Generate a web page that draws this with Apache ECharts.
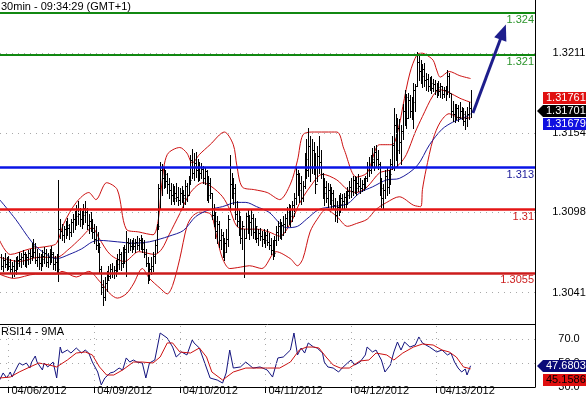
<!DOCTYPE html>
<html><head><meta charset="utf-8">
<script src="https://cdn.jsdelivr.net/npm/echarts@6/dist/echarts.min.js"></script>
<style>html,body{margin:0;padding:0;background:#fff}#c{width:586px;height:397px}</style>
</head><body><div id="c"></div>
<script>
// ---------- DATA ----------
const barStart = -4; // index of first 30-min bar (0 = 04/06/2012 00:00)
const barHigh = [1.3068,1.3066,1.3069,1.3066,1.3067,1.3065,1.3063,1.3064,1.3066,1.3067,
1.3070,1.3069,1.3071,1.3070,1.3068,1.3071,1.3072,1.3076,1.3079,1.3076,
1.3072,1.3069,1.3068,1.3071,1.3073,1.3072,1.3069,1.3072,1.3074,1.3070,
1.3067,1.3068,1.3121,1.3093,1.3090,1.3088,1.3092,1.3094,1.3090,1.3093,
1.3097,1.3099,1.3103,1.3106,1.3101,1.3099,1.3104,1.3106,1.3101,1.3097,
1.3098,1.3093,1.3090,1.3088,1.3084,1.3076,1.3060,1.3050,1.3052,1.3056,
1.3060,1.3061,1.3062,1.3060,1.3064,1.3068,1.3072,1.3070,1.3073,1.3075,
1.3085,1.3080,1.3079,1.3078,1.3080,1.3079,1.3081,1.3080,1.3082,1.3080,
1.3078,1.3072,1.3066,1.3062,1.3066,1.3070,1.3078,1.3090,1.3118,1.3134,
1.3132,1.3130,1.3128,1.3126,1.3122,1.3119,1.3118,1.3117,1.3119,1.3116,
1.3115,1.3117,1.3114,1.3121,1.3119,1.3124,1.3139,1.3143,1.3140,1.3141,
1.3136,1.3134,1.3133,1.3131,1.3130,1.3128,1.3124,1.3122,1.3112,1.3104,
1.3098,1.3095,1.3092,1.3086,1.3084,1.3080,1.3086,1.3096,1.3139,1.3126,
1.3122,1.3118,1.3106,1.3100,1.3095,1.3092,1.3086,1.3098,1.3100,1.3096,
1.3100,1.3097,1.3094,1.3088,1.3086,1.3087,1.3085,1.3086,1.3084,1.3086,
1.3083,1.3080,1.3078,1.3081,1.3088,1.3092,1.3093,1.3091,1.3095,1.3097,
1.3102,1.3104,1.3103,1.3106,1.3112,1.3130,1.3128,1.3126,1.3124,1.3120,
1.3140,1.3150,1.3158,1.3152,1.3150,1.3148,1.3140,1.3145,1.3152,1.3142,
1.3126,1.3122,1.3120,1.3119,1.3118,1.3116,1.3114,1.3108,1.3106,1.3110,
1.3112,1.3111,1.3112,1.3113,1.3116,1.3120,1.3122,1.3124,1.3124,1.3123,
1.3125,1.3122,1.3121,1.3122,1.3124,1.3134,1.3137,1.3139,1.3144,1.3145,
1.3146,1.3142,1.3134,1.3122,1.3118,1.3128,1.3130,1.3128,1.3136,1.3152,
1.3172,1.3168,1.3165,1.3164,1.3160,1.3175,1.3185,1.3182,1.3183,1.3181,
1.3180,1.3190,1.3189,1.3212,1.3210,1.3206,1.3203,1.3204,1.3197,1.3196,
1.3194,1.3195,1.3193,1.3192,1.3190,1.3191,1.3190,1.3188,1.3187,1.3188,
1.3199,1.3197,1.3182,1.3177,1.3175,1.3175,1.3174,1.3176,1.3173,1.3172,
1.3170,1.3173,1.3176,1.3185];
const barLow = [1.3058,1.3056,1.3059,1.3057,1.3058,1.3055,1.3052,1.3053,1.3054,1.3058,
1.3060,1.3059,1.3061,1.3060,1.3059,1.3061,1.3062,1.3064,1.3066,1.3062,
1.3060,1.3058,1.3057,1.3060,1.3062,1.3060,1.3059,1.3061,1.3063,1.3058,
1.3057,1.3055,1.3049,1.3080,1.3078,1.3077,1.3080,1.3082,1.3079,1.3081,
1.3084,1.3086,1.3089,1.3090,1.3088,1.3087,1.3090,1.3091,1.3086,1.3083,
1.3085,1.3080,1.3076,1.3072,1.3070,1.3055,1.3040,1.3032,1.3036,1.3042,
1.3050,1.3051,1.3052,1.3051,1.3053,1.3056,1.3058,1.3057,1.3059,1.3062,
1.3053,1.3070,1.3071,1.3070,1.3072,1.3070,1.3072,1.3071,1.3072,1.3070,
1.3066,1.3060,1.3048,1.3050,1.3054,1.3056,1.3062,1.3070,1.3086,1.3100,
1.3110,1.3115,1.3116,1.3112,1.3108,1.3104,1.3106,1.3104,1.3106,1.3103,
1.3104,1.3105,1.3102,1.3104,1.3106,1.3110,1.3118,1.3122,1.3121,1.3123,
1.3120,1.3121,1.3122,1.3119,1.3118,1.3107,1.3105,1.3108,1.3093,1.3088,
1.3080,1.3076,1.3073,1.3072,1.3066,1.3064,1.3070,1.3074,1.3100,1.3108,
1.3104,1.3093,1.3088,1.3082,1.3076,1.3072,1.3052,1.3080,1.3083,1.3079,
1.3082,1.3080,1.3079,1.3077,1.3075,1.3078,1.3074,1.3076,1.3073,1.3075,
1.3072,1.3068,1.3065,1.3067,1.3075,1.3078,1.3080,1.3079,1.3082,1.3084,
1.3088,1.3090,1.3088,1.3092,1.3095,1.3104,1.3110,1.3105,1.3104,1.3106,
1.3115,1.3122,1.3124,1.3120,1.3126,1.3125,1.3112,1.3120,1.3126,1.3122,
1.3108,1.3103,1.3105,1.3102,1.3104,1.3101,1.3100,1.3092,1.3091,1.3096,
1.3098,1.3100,1.3101,1.3102,1.3104,1.3108,1.3109,1.3110,1.3112,1.3110,
1.3113,1.3112,1.3113,1.3114,1.3115,1.3120,1.3124,1.3126,1.3130,1.3128,
1.3131,1.3129,1.3110,1.3102,1.3100,1.3108,1.3110,1.3112,1.3118,1.3129,
1.3128,1.3135,1.3130,1.3140,1.3132,1.3150,1.3160,1.3158,1.3165,1.3166,
1.3164,1.3158,1.3170,1.3188,1.3192,1.3190,1.3187,1.3188,1.3185,1.3184,
1.3185,1.3183,1.3184,1.3182,1.3180,1.3181,1.3180,1.3179,1.3180,1.3178,
1.3182,1.3180,1.3166,1.3163,1.3162,1.3164,1.3163,1.3165,1.3164,1.3160,
1.3157,1.3159,1.3164,1.3166];
const barClose = [1.3060,1.3064,1.3061,1.3063,1.3060,1.3058,1.3060,1.3057,1.3062,1.3064,
1.3065,1.3066,1.3068,1.3064,1.3066,1.3069,1.3067,1.3074,1.3070,1.3064,
1.3066,1.3062,1.3065,1.3067,1.3069,1.3063,1.3066,1.3070,1.3068,1.3061,
1.3063,1.3058,1.3086,1.3085,1.3082,1.3086,1.3089,1.3087,1.3084,1.3091,
1.3093,1.3095,1.3100,1.3097,1.3093,1.3096,1.3101,1.3098,1.3089,1.3092,
1.3087,1.3084,1.3079,1.3075,1.3073,1.3058,1.3045,1.3038,1.3048,1.3050,
1.3053,1.3058,1.3055,1.3057,1.3061,1.3065,1.3068,1.3062,1.3070,1.3072,
1.3077,1.3076,1.3074,1.3076,1.3074,1.3077,1.3075,1.3078,1.3076,1.3072,
1.3068,1.3062,1.3055,1.3058,1.3060,1.3067,1.3075,1.3088,1.3115,1.3128,
1.3122,1.3125,1.3120,1.3118,1.3114,1.3110,1.3108,1.3112,1.3109,1.3107,
1.3112,1.3108,1.3110,1.3117,1.3110,1.3121,1.3135,1.3126,1.3133,1.3128,
1.3130,1.3126,1.3129,1.3122,1.3127,1.3110,1.3119,1.3112,1.3096,1.3092,
1.3085,1.3090,1.3078,1.3082,1.3070,1.3076,1.3079,1.3093,1.3118,1.3112,
1.3115,1.3097,1.3092,1.3086,1.3080,1.3088,1.3080,1.3095,1.3086,1.3091,
1.3094,1.3084,1.3088,1.3080,1.3083,1.3081,1.3079,1.3078,1.3082,1.3077,
1.3075,1.3071,1.3069,1.3078,1.3084,1.3088,1.3082,1.3089,1.3090,1.3094,
1.3098,1.3095,1.3100,1.3103,1.3108,1.3125,1.3114,1.3119,1.3108,1.3117,
1.3136,1.3128,1.3145,1.3130,1.3142,1.3130,1.3118,1.3138,1.3134,1.3125,
1.3112,1.3116,1.3108,1.3114,1.3107,1.3112,1.3103,1.3096,1.3102,1.3104,
1.3108,1.3106,1.3109,1.3110,1.3113,1.3116,1.3113,1.3121,1.3115,1.3119,
1.3117,1.3115,1.3118,1.3116,1.3122,1.3130,1.3128,1.3136,1.3134,1.3141,
1.3136,1.3132,1.3115,1.3108,1.3114,1.3124,1.3116,1.3125,1.3132,1.3146,
1.3160,1.3142,1.3158,1.3148,1.3156,1.3170,1.3180,1.3165,1.3178,1.3170,
1.3176,1.3185,1.3188,1.3205,1.3198,1.3195,1.3200,1.3192,1.3193,1.3188,
1.3190,1.3186,1.3189,1.3185,1.3187,1.3184,1.3188,1.3182,1.3185,1.3184,
1.3195,1.3183,1.3170,1.3168,1.3166,1.3172,1.3166,1.3170,1.3168,1.3163,
1.3165,1.3168,1.3172,1.3170];

const bbUpper = [[-5,1.3078],[1,1.3068],[12,1.3072],[23,1.3074],[27,1.3076],[31,1.3090],[38,1.3105],[45,1.3112],[49,1.3107],[55,1.3119],[61,1.3114],[66,1.3086],[73,1.3084],[81,1.3082],[84,1.3093],[86,1.3119],[89,1.3139],[96,1.3144],[100,1.3140],[103,1.3133],[107,1.3139],[113,1.3146],[121,1.3155],[126,1.3146],[128,1.3131],[131,1.3116],[138,1.3114],[145,1.3112],[152,1.3107],[158,1.3118],[162,1.3135],[165,1.3153],[170,1.3155],[184,1.3155],[188,1.3143],[195,1.3123],[201,1.3126],[208,1.3146],[215,1.3146],[219,1.3160],[221,1.3173],[225,1.3197],[229,1.3210],[232,1.3211],[234,1.3210],[238,1.3206],[240,1.3199],[242,1.3194],[247,1.3198],[253,1.3195],[259,1.3193]];
const bbMiddle = [[-5,1.3066],[6,1.3063],[17,1.3066],[27,1.3066],[34,1.3072],[40,1.3079],[47,1.3087],[51,1.3079],[57,1.3068],[65,1.3063],[73,1.3070],[82,1.3068],[86,1.3072],[90,1.3082],[96,1.3097],[102,1.3112],[109,1.3119],[114,1.3116],[120,1.3109],[124,1.3100],[128,1.3088],[133,1.3086],[139,1.3086],[146,1.3084],[152,1.3081],[158,1.3090],[163,1.3104],[169,1.3116],[176,1.3125],[184,1.3121],[190,1.3114],[195,1.3112],[201,1.3116],[208,1.3126],[214,1.3128],[219,1.3132],[223,1.3139],[228,1.3155],[232,1.3166],[238,1.3181],[242,1.3185],[247,1.3183],[253,1.3179],[259,1.31761]];
const bbLower = [[-5,1.3054],[3,1.3051],[15,1.3054],[27,1.3054],[30,1.3056],[38,1.3052],[45,1.3056],[51,1.3049],[57,1.3040],[61,1.3037],[66,1.3040],[70,1.3047],[75,1.3058],[79,1.3051],[85,1.3044],[89,1.3040],[92,1.3046],[96,1.3065],[100,1.3088],[103,1.3095],[107,1.3098],[113,1.3097],[117,1.3079],[120,1.3065],[124,1.3058],[130,1.3059],[135,1.3060],[142,1.3058],[150,1.3070],[158,1.3065],[162,1.3060],[165,1.3065],[169,1.3084],[173,1.3093],[178,1.3100],[184,1.3095],[190,1.3088],[195,1.3090],[201,1.3093],[206,1.3100],[212,1.3105],[219,1.3109],[227,1.3103],[231,1.3102],[232,1.3114],[234,1.3128],[238,1.3150],[242,1.3162],[247,1.3168],[253,1.3165],[259,1.3165]];
const maBlue = [[-5,1.3107],[4,1.3093],[13,1.3077],[19,1.3070],[27,1.3065],[34,1.3068],[41,1.3072],[47,1.3077],[51,1.3078],[61,1.3077],[70,1.3076],[79,1.3077],[85,1.3079],[90,1.3081],[98,1.3085],[105,1.3095],[113,1.3100],[120,1.3102],[128,1.3105],[133,1.3105],[139,1.3102],[146,1.3098],[156,1.3087],[162,1.3088],[167,1.3093],[174,1.3100],[182,1.3102],[190,1.3104],[197,1.3112],[204,1.3116],[212,1.3121],[219,1.3122],[229,1.3131],[236,1.3146],[243,1.3157],[249,1.3162],[255,1.3165],[259,1.31679]];

const rsi = [[-5,35.8],[-3,41.7],[-1,37.5],[1,42.5],[2,38.3],[4,44.2],[6,50],[8,48.3],[10,50],[12,45.8],[13,50.8],[15,55.8],[16,50.8],[19,44.2],[20,50],[22,46.7],[25,50.8],[27,37.5],[29,63.3],[30,58.3],[33,60.8],[35,58.3],[38,62.5],[41,58.3],[43,60.8],[45,58.3],[47,50.8],[50,42.5],[52,31.7],[54,37.5],[57,41.7],[59,42.5],[62,45.8],[64,44.2],[66,54.2],[68,50.8],[70,52.5],[72,50.8],[75,50],[77,37.5],[79,50],[82,52.5],[85,75],[89,70.8],[92,63.3],[94,55],[97,59.2],[100,56.7],[103,69.2],[104,66.7],[107,62.5],[110,50],[113,37.5],[117,35.8],[120,33.3],[122,41.7],[124,60.8],[126,45.8],[130,46.7],[133,50.8],[137,45.8],[141,46.7],[145,44.2],[148,38.3],[151,54.2],[154,55],[158,60.8],[160,75],[162,56.7],[164,62.5],[166,58.3],[168,66.7],[171,63.3],[173,62.5],[176,58.3],[177,50.8],[179,46.7],[182,45.8],[185,42.5],[187,45.8],[190,50],[192,52.5],[194,48.3],[197,50.8],[200,56.7],[201,63.3],[204,59.2],[206,60.8],[209,52.5],[211,42.5],[214,48.3],[216,59.2],[218,67.5],[220,60.8],[222,67.5],[225,63.3],[228,65],[230,71.7],[232,66.7],[236,63.3],[240,59.2],[243,60.8],[246,56.7],[248,58.3],[250,50.8],[252,45.8],[254,42.5],[256,45],[257,40],[259,47.6803]];
const rsiMa = [[-5,37.5],[1,38.3],[6,42.5],[12,46.7],[17,50],[23,48.3],[27,46.7],[33,52.5],[38,58.3],[43,59.2],[47,56.7],[51,46.7],[55,40],[59,40],[64,44.2],[70,50.8],[75,50.8],[81,50],[85,55],[89,66.7],[92,66.7],[96,59.2],[102,58.3],[107,62.5],[111,55],[114,42.5],[120,35.8],[126,42.5],[133,45.8],[139,45.8],[145,45.8],[152,45.8],[158,50.8],[163,60.8],[167,63.3],[171,63.3],[174,62.5],[178,55],[182,48.3],[186,45.8],[191,45.8],[197,51.7],[202,52.5],[206,58.3],[212,56.7],[216,52.5],[221,58.3],[227,63.3],[232,65.8],[238,65],[243,60.8],[247,59.2],[251,55],[255,46.7],[259,45.1586]];

const levels = [1.324, 1.321, 1.313, 1.31, 1.3055];
const levelLabels = ['1.324', '1.321', '1.313', '1.31', '1.3055'];
const priceTicks = [1.3041, 1.3098, 1.3154, 1.3211];
const rsiTicks = [30, 50, 70];
const rsiGrid = [50, 70];
const dateTicks = [0, 48, 96, 144, 192, 240];
const dateLabels = ['04/06/2012', '04/09/2012', '04/10/2012', '04/11/2012', '04/12/2012', '04/13/2012'];
const arrowFrom = [260.3, 1.31685];
const arrowTo = [277.2, 1.32261];
const lastPrice = 1.31701, lastBBMid = 1.31761, lastMA = 1.31679;
const lastRsi = 47.6803, lastRsiMa = 45.1586;
const titleText = '30min - 09:34:29 (GMT+1)';
const rsiTitle = 'RSI14 - 9MA';

// ---------- CHART ----------
const FONT = '"Liberation Sans", Arial, sans-serif';
const chart = echarts.init(document.getElementById('c'), null, {renderer: 'canvas', width: 586, height: 397});
const xMin = -4.76, xMax = 295.1;
const barData = barHigh.map((h, k) => [barStart + k, barLow[k], h, barClose[k]]);

const levelStyles = [
  {line: '#118811', text: '#2a932a', w: 2},
  {line: '#118811', text: '#2a932a', w: 2},
  {line: '#0a14e6', text: '#1a1a99', w: 2.5},
  {line: '#e41414', text: '#cc1f1f', w: 2.5},
  {line: '#cc1c1c', text: '#cc1f1f', w: 2.5}
];

function lineSeries(data, color, xi, yi, z, smooth) {
  return {type: 'line', xAxisIndex: xi, yAxisIndex: yi, data: data, showSymbol: false, symbol: 'none',
    smooth: smooth, lineStyle: {color: color, width: 1}, z: z, silent: true, clip: true};
}
const dotted = {color: '#a8a8a8', width: 1, type: [1, 5]};

const option = {
  animation: false,
  backgroundColor: '#fff',
  grid: [
    {left: 0, right: 51, top: 0, height: 324, containLabel: false, outerBoundsMode: 'none'},
    {left: 0, right: 51, top: 324, height: 63, containLabel: false, outerBoundsMode: 'none'}
  ],
  xAxis: [
    {type: 'value', gridIndex: 0, min: xMin, max: xMax,
      axisLine: {show: true, onZero: false, lineStyle: {color: '#000', width: 1}},
      axisTick: {show: false}, axisLabel: {show: false}, splitLine: {show: false}},
    {type: 'value', gridIndex: 1, min: xMin, max: xMax,
      axisLine: {show: true, onZero: false, lineStyle: {color: '#000', width: 1}},
      axisTick: {show: true, length: 6, customValues: dateTicks, lineStyle: {color: '#000'}},
      axisLabel: {show: true, customValues: dateTicks, formatter: v => { const k = dateTicks.indexOf(v); return k >= 0 ? dateLabels[k] : ''; },
        align: 'left', margin: -2, padding: [0, 0, 0, 3], fontSize: 11, fontFamily: FONT, color: '#000'},
      splitLine: {show: false}}
  ],
  yAxis: [
    {type: 'value', gridIndex: 0, position: 'right', min: 1.30186, max: 1.32488,
      axisLine: {show: true, onZero: false, lineStyle: {color: '#000', width: 1}},
      axisTick: {show: false},
      axisLabel: {customValues: priceTicks, formatter: v => v.toFixed(4), align: 'center', margin: 34, fontSize: 11, fontFamily: FONT, color: '#000'},
      splitLine: {show: false}},
    {type: 'value', gridIndex: 1, position: 'right', min: 30, max: 82.5,
      axisLine: {show: true, onZero: false, lineStyle: {color: '#000', width: 1}},
      axisTick: {show: false},
      axisLabel: {customValues: rsiTicks, formatter: v => v.toFixed(1), align: 'center', margin: 34, fontSize: 11, fontFamily: FONT, color: '#000'},
      splitLine: {show: false}}
  ],
  series: [
    // dotted grid lines, main panel
    {type: 'line', xAxisIndex: 0, yAxisIndex: 0, data: [], z: 1, silent: true,
      markLine: {silent: true, symbol: 'none', animation: false, precision: 6, label: {show: false}, lineStyle: dotted,
        data: priceTicks.map(v => ({yAxis: v}))}},
    // dotted grid lines, RSI panel
    {type: 'line', xAxisIndex: 1, yAxisIndex: 1, data: [], z: 1, silent: true,
      markLine: {silent: true, symbol: 'none', animation: false, precision: 6, label: {show: false}, lineStyle: dotted,
        data: rsiGrid.map(v => ({yAxis: v})).concat(dateTicks.map(v => ({xAxis: v})))}},
    // support / resistance levels
    {type: 'line', xAxisIndex: 0, yAxisIndex: 0, data: [], z: 2, silent: true,
      markLine: {silent: true, symbol: 'none', animation: false, precision: 6,
        data: levels.map((v, k) => ({yAxis: v,
          lineStyle: {color: levelStyles[k].line, width: levelStyles[k].w, type: 'solid'},
          label: {show: true, position: 'insideEndBottom', distance: [1, 2], formatter: levelLabels[k],
            color: levelStyles[k].text, fontSize: 11, fontFamily: FONT}}))}},
    lineSeries(bbUpper, '#cc1111', 0, 0, 3, 0.3),
    lineSeries(bbMiddle, '#cc1111', 0, 0, 3, 0.3),
    lineSeries(bbLower, '#cc1111', 0, 0, 3, 0.3),
    lineSeries(maBlue, '#1a1a9a', 0, 0, 3, 0.3),
    {type: 'custom', xAxisIndex: 0, yAxisIndex: 0, z: 4, silent: true, clip: true,
      data: barData, encode: {x: 0, y: [1, 2, 3]},
      renderItem: function (params, api) {
        const x = api.value(0);
        const lo = api.coord([x, api.value(1)]);
        const hi = api.coord([x, api.value(2)]);
        const cl = api.coord([x, api.value(3)]);
        const px = Math.round(lo[0]) + 0.5;
        const cy = Math.round(cl[1]) + 0.5;
        return {type: 'group', children: [
          {type: 'line', shape: {x1: px, y1: Math.round(hi[1]), x2: px, y2: Math.round(lo[1]) + 1}, style: {stroke: '#000', lineWidth: 1}},
          {type: 'line', shape: {x1: px, y1: cy, x2: px + 2, y2: cy}, style: {stroke: '#000', lineWidth: 1}}
        ]};
      }},
    // projection arrow
    {type: 'line', xAxisIndex: 0, yAxisIndex: 0, data: [], z: 5, silent: true,
      markLine: {silent: true, animation: false, precision: 6, symbol: ['none', 'triangle'], symbolSize: [13, 16],
        label: {show: false}, lineStyle: {color: '#1e1e8c', width: 3, type: 'solid'},
        data: [[{coord: arrowFrom}, {coord: arrowTo}]]}},
    lineSeries(rsi, '#13137e', 1, 1, 3, false),
    lineSeries(rsiMa, '#cc1111', 1, 1, 3, false)
  ],
  graphic: [
    {type: 'text', left: 1, top: 1, style: {text: titleText, fill: '#000', font: '11px ' + FONT}, z: 20},
    {type: 'text', left: 1, top: 326, style: {text: rsiTitle, fill: '#000', font: '11px ' + FONT}, z: 20}
  ]
};
chart.setOption(option);

function valueBox(yc, fill, text, textColor, pointer) {
  const els = [];
  if (pointer) {
    els.push({type: 'polygon', shape: {points: [[537, yc], [543, yc - 6], [586, yc - 6], [586, yc + 6], [543, yc + 6]]}, style: {fill: fill}, z: 30});
  } else {
    els.push({type: 'rect', shape: {x: 543, y: yc - 6, width: 43, height: 12}, style: {fill: fill}, z: 30});
  }
  els.push({type: 'text', x: 546, y: yc, style: {text: text, fill: textColor, font: '11px ' + FONT, align: 'left', verticalAlign: 'middle'}, z: 31});
  return els;
}
const yPrice = Math.round(chart.convertToPixel({yAxisIndex: 0}, lastPrice));
const yRsi = Math.round(chart.convertToPixel({yAxisIndex: 1}, lastRsi));
const boxes = [].concat(
  valueBox(yPrice - 13, '#e01010', lastBBMid.toFixed(5), '#fff', false),
  valueBox(yPrice + 13, '#1010e0', lastMA.toFixed(5), '#fff', false),
  valueBox(yPrice, '#000', lastPrice.toFixed(5), '#fff', true),
  valueBox(yRsi + 14, '#e01010', lastRsiMa.toFixed(4), '#000', false),
  valueBox(yRsi, '#0a0a78', lastRsi.toFixed(4), '#fff', true)
);
chart.setOption({graphic: option.graphic.concat(boxes)});
</script>
</body></html>
